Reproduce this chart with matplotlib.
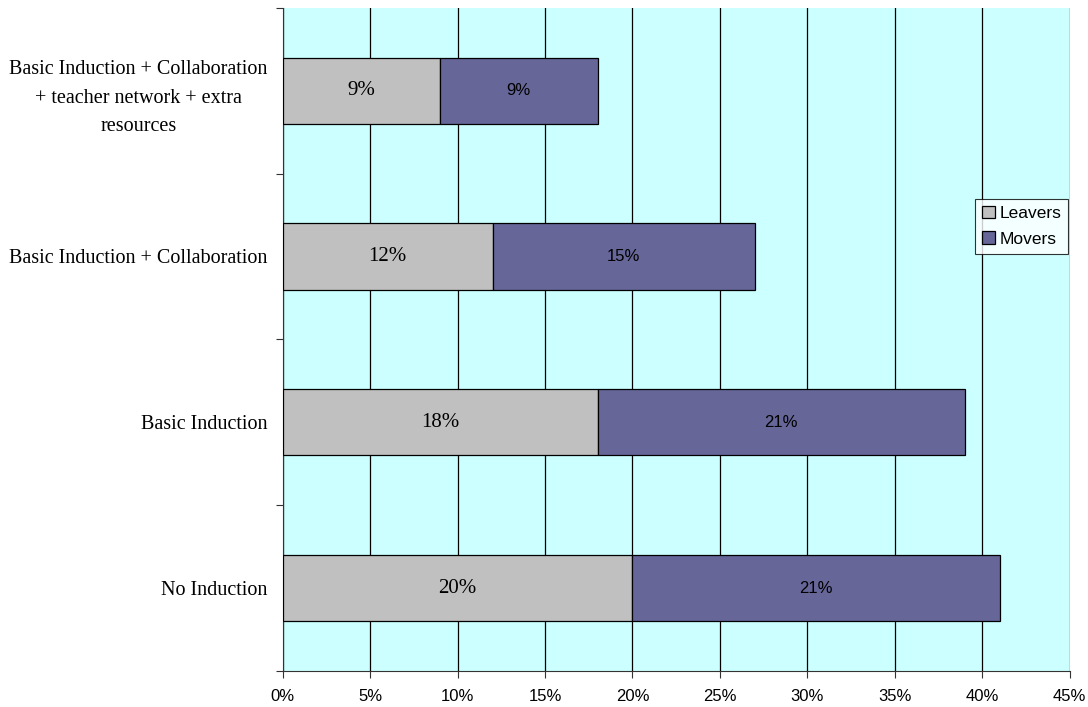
import numpy as np
import matplotlib; matplotlib.use("Agg")
import matplotlib.pyplot as plt
from matplotlib.ticker import FixedLocator, PercentFormatter

categories = ["No Induction", "Basic Induction", "Basic Induction + Collaboration",
              "Basic Induction + Collaboration\n+ teacher network + extra\nresources"]
leavers = [20, 18, 12, 9]
movers = [21, 21, 15, 9]
xticks = [0, 5, 10, 15, 20, 25, 30, 35, 40, 45]

SERIF = ["Liberation Serif", "DejaVu Serif"]
SANS = ["Liberation Sans", "DejaVu Sans"]


def main():
    fig = plt.figure(figsize=(10.88, 7.07), dpi=100)
    ax = fig.add_axes([0.260, 0.051, 0.723, 0.938])
    ax.set_facecolor("#CCFFFF")
    y = np.arange(len(categories))
    h = 0.40
    ax.barh(y, leavers, h, color="#C0C0C0", edgecolor="black", lw=0.9,
            label="Leavers", zorder=3)
    ax.barh(y, movers, h, left=leavers, color="#666699", edgecolor="black", lw=0.9,
            label="Movers", zorder=3)
    for i in range(len(y)):
        ax.text(leavers[i] / 2, y[i], f"{leavers[i]}%", ha="center", va="center",
                fontsize=15, family=SERIF, zorder=4)
        ax.text(leavers[i] + movers[i] / 2, y[i], f"{movers[i]}%", ha="center",
                va="center", fontsize=12, family=SANS, zorder=4)

    ax.set_xlim(0, 45); ax.set_ylim(-0.5, len(categories) - 0.5)
    ax.xaxis.set_major_locator(FixedLocator(xticks))
    ax.xaxis.set_major_formatter(PercentFormatter(decimals=0))
    ax.grid(axis="x", color="black", lw=0.9, zorder=1)
    ax.set_yticks(y)
    ax.set_yticklabels(categories, family=SERIF, fontsize=14.5, ha="right",
                       multialignment="center", linespacing=1.7)
    ax.tick_params(axis="y", length=0, pad=11)
    ax.yaxis.set_minor_locator(FixedLocator(np.arange(-0.5, len(categories), 1.0)))
    ax.tick_params(axis="y", which="minor", length=5, width=0.8, color="#333333")
    ax.tick_params(axis="x", length=5, width=0.8, color="#333333", labelsize=12,
                   pad=8)
    for lab in ax.get_xticklabels():
        lab.set_family(SANS)
    for s in ["top", "right"]:
        ax.spines[s].set_visible(False)
    ax.spines["left"].set_color("#333333"); ax.spines["bottom"].set_color("#333333")

    leg = fig.legend(loc="upper right", bbox_to_anchor=(0.982, 0.719),
                     prop={"family": SANS, "size": 12.5}, frameon=True, fancybox=False,
                     handlelength=0.75, handleheight=0.75, handletextpad=0.25,
                     borderpad=0.4, labelspacing=0.6, borderaxespad=0)
    leg.get_frame().set_edgecolor("black"); leg.get_frame().set_linewidth(0.8)
    fig.savefig("out.png", dpi=100)


if __name__ == "__main__":
    main()
